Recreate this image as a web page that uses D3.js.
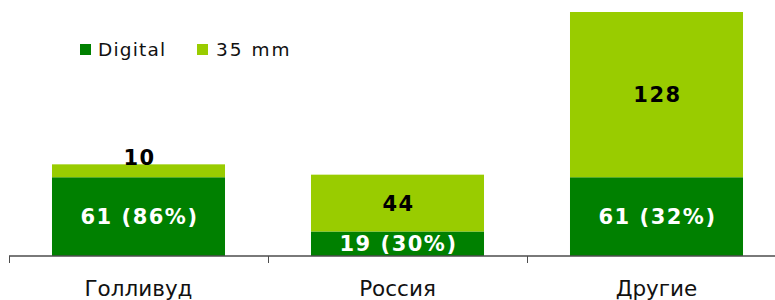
<!DOCTYPE html>
<html><head><meta charset="utf-8">
<script src="https://cdn.jsdelivr.net/npm/d3@7"></script>
<style>body{margin:0;background:#fff}svg{display:block}</style>
</head><body>
<svg id="c" width="775" height="300"></svg>
<script>
const categories = ["Голливуд", "Россия", "Другие"];
const digital = [61, 19, 61];
const film35 = [10, 44, 128];
const seriesNames = ["Digital", "35 mm"];
const colors = ["#008000", "#99CC00"];

const svg = d3.select("#c");
const rows = categories.map((c, i) => ({cat: c, digital: digital[i], film: film35[i]}));
const stack = d3.stack().keys(["digital", "film"])(rows);

const x = d3.scaleBand().domain(categories).range([9, 786]).paddingInner(0.332).paddingOuter(0.166);
const y = d3.scaleLinear().domain([0, 189]).range([256, 12]);

// bars
stack.forEach((layer, li) => {
  svg.append("g").selectAll("rect").data(layer).enter().append("rect")
    .attr("x", d => x(d.data.cat))
    .attr("width", x.bandwidth())
    .attr("y", d => y(d[1]))
    .attr("height", d => y(d[0]) - y(d[1]))
    .attr("fill", colors[li]);
});

// axis
const step = x.step();
const ax = svg.append("g");
ax.append("line").attr("x1", 9).attr("x2", 786).attr("y1", 256).attr("y2", 256)
  .attr("stroke", "#4d4d4d").attr("stroke-width", 1.5);
d3.range(categories.length + 1).forEach(i => {
  const tx = Math.round(9 + i * step) + 0.5;
  ax.append("line").attr("x1", tx).attr("x2", tx).attr("y1", 256).attr("y2", 263)
    .attr("stroke", "#4d4d4d").attr("stroke-width", 1);
});
ax.selectAll("text.cat").data(categories).enter().append("text")
  .attr("x", d => x(d) + x.bandwidth() / 2)
  .attr("y", 296)
  .attr("text-anchor", "middle")
  .attr("font-family", "'DejaVu Sans', Verdana, sans-serif")
  .attr("font-size", 21.5)
  .attr("fill", "#111")
  .text(d => d);

// value labels
const lbl = svg.append("g").attr("font-family", "'DejaVu Sans', Verdana, sans-serif")
  .attr("font-weight", "bold").attr("font-size", 21).attr("letter-spacing", 1.5)
  .attr("text-anchor", "middle");
stack[0].forEach(d => {
  const v = d.data.digital, tot = d.data.digital + d.data.film;
  lbl.append("text")
    .attr("x", x(d.data.cat) + x.bandwidth() / 2 + 1)
    .attr("y", (y(d[0]) + y(d[1])) / 2)
    .attr("dy", "0.36em")
    .attr("fill", "#fff")
    .text(v + " (" + Math.round(v / tot * 100) + "%)");
});
stack[1].forEach(d => {
  const h = y(d[0]) - y(d[1]);
  const yy = h < 25 ? y(d[1]) + 1 : (y(d[0]) + y(d[1])) / 2 + 7.5;
  lbl.append("text")
    .attr("x", x(d.data.cat) + x.bandwidth() / 2 + 1)
    .attr("y", yy)
    .attr("fill", "#000")
    .text(d.data.film);
});

// legend
const legX = [80, 197], legTX = [98, 216];
const leg = svg.append("g");
seriesNames.forEach((s, i) => {
  leg.append("rect").attr("x", legX[i]).attr("y", 44).attr("width", 11).attr("height", 11).attr("fill", colors[i]);
  leg.append("text").attr("x", legTX[i]).attr("y", 56)
    .attr("font-family", "'DejaVu Sans', Verdana, sans-serif")
    .attr("font-size", 18.5).attr("letter-spacing", i === 0 ? 1.2 : 2)
    .attr("fill", "#111").text(s);
});
</script>
</body></html>
